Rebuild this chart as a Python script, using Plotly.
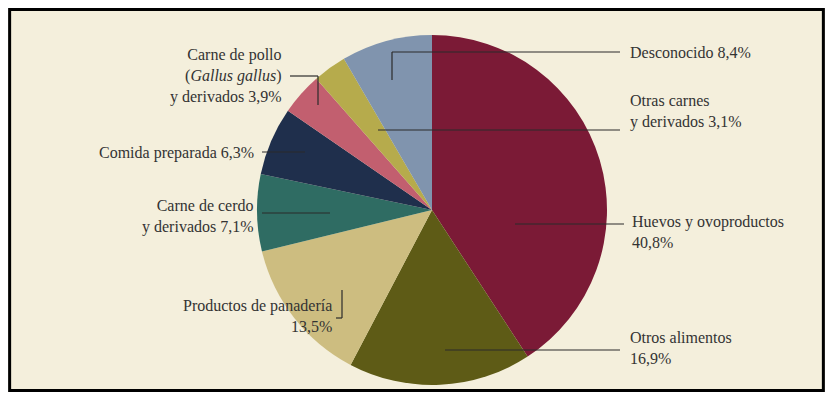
import plotly.graph_objects as go

categories = ["Huevos y ovoproductos", "Otros alimentos", "Productos de panadería",
              "Carne de cerdo y derivados", "Comida preparada",
              "Carne de pollo (Gallus gallus) y derivados", "Otras carnes y derivados",
              "Desconocido"]
values = [40.8, 16.9, 13.5, 7.1, 6.3, 3.9, 3.1, 8.4]
colors = ["#7b1a36", "#5e5b16", "#cdbd80", "#2f6c63", "#1f2f4c", "#c25f6f", "#b6ab4c", "#8094ae"]

# page body has an 8px margin, so the figure is made smaller and positions are mapped
OFF = 8
W, H = 833 - 2 * OFF, 400 - 2 * OFF

def px(x, y):
    return (x - OFF) / W, 1 - (y - OFF) / H

dx0, dy0 = px(257, 385)
dx1, dy1 = px(607, 35)
fig = go.Figure(go.Pie(labels=categories, values=values, sort=False, direction="clockwise",
                       rotation=0, textinfo="none", hoverinfo="label+percent",
                       marker=dict(colors=colors), showlegend=False,
                       domain=dict(x=[dx0, dx1], y=[dy0, dy1])))

shapes = [dict(type="rect", xref="paper", yref="paper", x0=0.002, y0=0.004, x1=0.998, y1=0.996,
               line=dict(color="black", width=3))]

def poly(pts):
    for (a, b), (c, d) in zip(pts[:-1], pts[1:]):
        x0, y0 = px(a, b)
        x1, y1 = px(c, d)
        shapes.append(dict(type="line", xref="paper", yref="paper", x0=x0, y0=y0, x1=x1, y1=y1,
                           line=dict(color="#2a2a2a", width=1.2)))

poly([(392, 80), (392, 52), (620, 52)])
poly([(378, 130), (620, 130)])
poly([(515, 224), (624, 224)])
poly([(445, 350), (620, 350)])
poly([(290, 76), (318, 76), (318, 105)])
poly([(262, 152), (305, 152)])
poly([(262, 213), (330, 213)])
poly([(336, 318), (342, 318), (342, 290)])

labels = [
    (628, 52, "Desconocido 8,4%", "left"),
    (628, 112, "Otras carnes<br>y derivados 3,1%", "left"),
    (630, 232, "Huevos y ovoproductos<br>40,8%", "left"),
    (628, 348, "Otros alimentos<br>16,9%", "left"),
    (284, 76, "Carne de pollo<br>(<i>Gallus gallus</i>)<br>y derivados 3,9%", "right"),
    (256, 153, "Comida preparada 6,3%", "right"),
    (256, 216, "Carne de cerdo<br>y derivados 7,1%", "right"),
    (334, 316, "Productos de panadería<br>13,5%", "right"),
]
annotations = []
for x, y, t, al in labels:
    ax, ay = px(x, y)
    annotations.append(dict(x=ax, y=ay, xref="paper", yref="paper", text=t, showarrow=False,
                            xanchor=al, yanchor="middle", align=al,
                            font=dict(family="Liberation Serif", size=16, color="#333333")))

fig.update_layout(width=W, height=H, margin=dict(l=0, r=0, t=0, b=0),
                  paper_bgcolor="#f4efdc", plot_bgcolor="#f4efdc",
                  shapes=shapes, annotations=annotations)
fig.write_html("out.html")
